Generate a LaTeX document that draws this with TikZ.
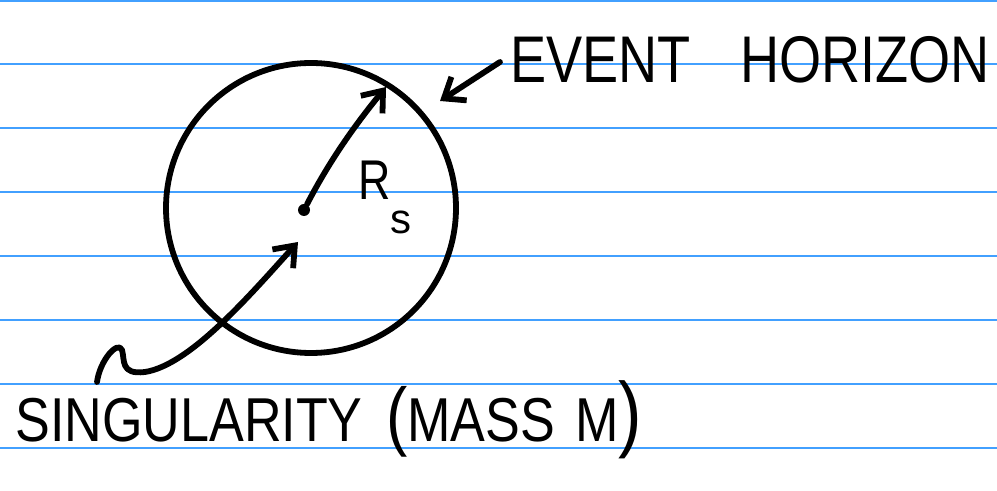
\documentclass[tikz,border=0pt]{standalone}
\usepackage{fontspec}
\setmainfont{Liberation Sans}
\usetikzlibrary{arrows.meta}
\definecolor{rule}{RGB}{66,160,255}
\begin{document}
\begin{tikzpicture}[x=0.5pt,y=-0.5pt,
  ink/.style={line width=2.9pt,line cap=round,line join=round,black},
  barb/.style={ink,-{Straight Barb[length=9pt,width=14pt,line width=2.9pt]}},
  ruleline/.style={rule,line width=1pt},
  label/.style={inner sep=0pt,anchor=base west}]
\useasboundingbox (0,0) rectangle (997,491);
\fill[white] (0,0) rectangle (997,491);
% ruled paper
\foreach \y in {1,64,128,192,256,320,384,448}
  \draw[ruleline] (0,\y) -- (997,\y);
% event horizon circle
\node[ink,draw,circle,minimum size=145pt,inner sep=0pt] (horizon) at (311,208) {};
% singularity dot
\node[fill=black,circle,inner sep=0pt,minimum size=6pt] (sing) at (304,210) {};
% radius arrow
\coordinate (rtip) at (386,87);
\draw[barb] (sing) .. controls (330,160) and (355,125) .. (rtip);
\node[label,font=\fontsize{28pt}{30pt}\selectfont] (rs) at (358,200)
  {\scalebox{0.8}[1]{R}\raisebox{-17pt}{\fontsize{21pt}{22pt}\selectfont s}};
% event horizon label
\node[label,font=\fontsize{33pt}{36pt}\selectfont] (eh) at (510,83)
  {\scalebox{0.82}[1]{EVENT\hspace{30pt}HORIZON}};
\coordinate (ehstart) at (500,62);
\coordinate (ehtip) at (440,101);
\draw[barb] (ehstart) -- (ehtip);
% singularity label
\node[label,font=\fontsize{31pt}{34pt}\selectfont] (st) at (15,442)
  {\scalebox{0.84}[1]{SINGULARITY\hspace{14pt}{\fontsize{38pt}{38pt}\selectfont(}MASS\hspace{12pt}M{\fontsize{42pt}{42pt}\selectfont)}}};
\coordinate (sstart) at (97,382);
\coordinate (stip) at (298,242);
\draw[barb] (sstart) .. controls (100,360) and (118,340) .. (122,350)
  .. controls (125,360) and (120,375) .. (145,372)
  .. controls (190,365) and (250,295) .. (stip);
\end{tikzpicture}
\end{document}
